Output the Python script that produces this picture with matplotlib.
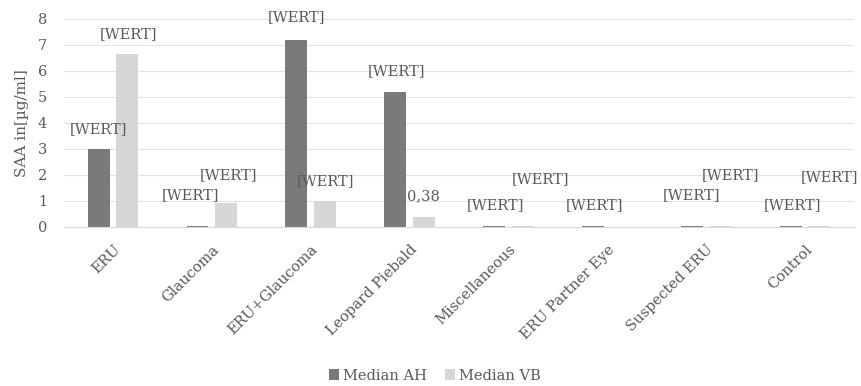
import matplotlib.pyplot as plt
import numpy as np

categories = ['ERU', 'Glaucoma', 'ERU+Glaucoma', 'Leopard Piebald', 'Miscellaneous',
              'ERU Partner Eye', 'Suspected ERU', 'Control']
median_ah = [3.0, 0.04, 7.2, 5.2, 0.04, 0.04, 0.04, 0.04]
median_vb = [6.65, 0.93, 1.0, 0.38, 0.03, 0.0, 0.03, 0.03]
labels_ah = ['[WERT]'] * 8
labels_vb = ['[WERT]', '[WERT]', '[WERT]', '0,38', '[WERT]', '', '[WERT]', '[WERT]']

# label offsets in points (dx, dy) from the bar top, as placed in the original
offs_ah = [(0, 14), (-5, 22), (0, 16), (1, 15), (1, 15), (1, 15), (0, 22), (1, 15)]
offs_vb = [(1, 14), (2, 20), (0, 14), (0, 15), (13, 34), (0, 0), (7, 37), (7, 35)]

plt.rcParams['font.family'] = 'DejaVu Serif'
txt = '#595959'

fig = plt.figure(figsize=(8.61, 3.86), dpi=100)
ax = fig.add_axes([0.0738, 0.412, 0.9186, 0.539])

x = np.arange(len(categories))
w = 0.22
b1 = ax.bar(x - 0.145, median_ah, w, color='#7a7a7a', label='Median AH', zorder=2)
b2 = ax.bar(x + 0.145, median_vb, w, color='#d6d6d6', label='Median VB', zorder=2)

for bars, labs, offs in [(b1, labels_ah, offs_ah), (b2, labels_vb, offs_vb)]:
    for r, lab, (dx, dy) in zip(bars, labs, offs):
        if lab:
            ax.annotate(lab, (r.get_x() + r.get_width() / 2, r.get_height()),
                        xytext=(dx, dy), textcoords='offset points',
                        ha='center', va='center', fontsize=10.5, color=txt)

ax.set_xlim(-0.5, len(categories) - 0.5)
ax.set_ylim(0, 8)
ax.set_yticks(range(9))
ax.grid(axis='y', color='#e3e3e3', lw=0.8, zorder=0)
for s in ['top', 'right', 'left']:
    ax.spines[s].set_visible(False)
ax.spines['bottom'].set_color('#d9d9d9')
ax.tick_params(axis='both', length=0, colors=txt, labelsize=10.5)
ax.tick_params(axis='y', pad=12)
ax.tick_params(axis='x', pad=11)
ax.set_xticks(x)
ax.set_xticklabels(categories, rotation=45, ha='right', rotation_mode='anchor')
ax.set_ylabel('SAA in[µg/ml]', color=txt, fontsize=11, labelpad=6)

fig.legend(loc='lower center', bbox_to_anchor=(0.505, -0.025), ncol=2, frameon=False,
           fontsize=10.5, handlelength=0.7, handleheight=0.7, handletextpad=0.3,
           columnspacing=1.2, labelcolor=txt)

plt.savefig('out.png', dpi=100)
